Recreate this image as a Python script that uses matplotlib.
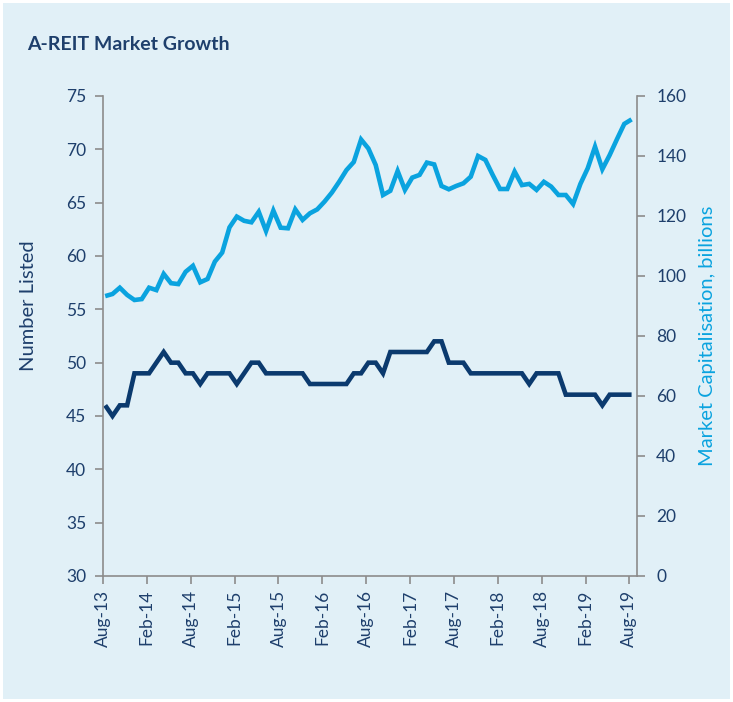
import matplotlib
matplotlib.use("Agg")
import matplotlib.pyplot as plt
from matplotlib.patches import Rectangle
import numpy as np

# ---- data ----
tick_labels = ["Aug-13", "Feb-14", "Aug-14", "Feb-15", "Aug-15", "Feb-16", "Aug-16",
               "Feb-17", "Aug-17", "Feb-18", "Aug-18", "Feb-19", "Aug-19"]

number_listed = [46, 45, 46, 46, 49, 49, 49, 50, 51, 50, 50, 49, 49, 48, 49, 49, 49, 49,
                 48, 49, 50, 50, 49, 49, 49, 49, 49, 49, 48, 48, 48, 48, 48, 48, 49, 49,
                 50, 50, 49, 51, 51, 51, 51, 51, 51, 52, 52, 50, 50, 50, 49, 49, 49, 49,
                 49, 49, 49, 49, 48, 49, 49, 49, 49, 47, 47, 47, 47, 47, 46, 47, 47, 47, 47]

market_cap = [93.3, 94.0, 96.1, 93.7, 92.0, 92.3, 96.1, 95.3, 100.7, 97.6, 97.3, 101.4,
              103.4, 97.9, 99.0, 104.8, 107.8, 116.2, 119.8, 118.4, 117.9, 121.4, 115.0,
              121.8, 116.1, 115.9, 122.2, 118.7, 120.9, 122.2, 124.8, 127.8, 131.4, 135.3,
              138.0, 145.5, 142.5, 137.0, 127.0, 128.4, 135.0, 128.7, 132.8, 133.7, 137.8,
              137.2, 130.0, 128.9, 130.0, 130.9, 133.1, 140.0, 138.7, 133.7, 129.0, 129.0,
              134.8, 130.3, 130.7, 128.7, 131.4, 129.8, 127.0, 127.0, 124.0, 130.7, 135.9,
              143.1, 135.6, 140.3, 145.6, 150.7, 152.2]

DARK = "#0B3A6E"
LIGHT = "#0AA3DF"
BG = "#E1F0F7"
TXT = "#1E3F6C"
SPINE = "#8C8C8C"

plt.rcParams['font.family'] = ['Lato', 'DejaVu Sans']

fig = plt.figure(figsize=(7.33, 7.02), dpi=100)
fig.patch.set_facecolor("white")
fig.add_artist(Rectangle((3 / 733, 3 / 702), 727 / 733, 696 / 702, transform=fig.transFigure,
                         facecolor=BG, edgecolor="none", zorder=-10))

ax = fig.add_axes([103 / 733, 1 - 576 / 702, (636.7 - 103) / 733, (576 - 96) / 702])
ax.set_facecolor("none")
ax2 = ax.twinx()

x = np.arange(len(number_listed)) + 0.3
ax.plot(x, number_listed, color=DARK, lw=3.3, solid_joinstyle="miter", solid_capstyle="butt")
ax2.plot(x, market_cap, color=LIGHT, lw=3.3, solid_joinstyle="miter", solid_capstyle="butt")

ax.set_xlim(0, 73)
ax.set_ylim(30, 75)
ax2.set_ylim(0, 160)
ax.set_yticks(np.arange(30, 76, 5))
ax2.set_yticks(np.arange(0, 161, 20))
ax.set_xticks(np.arange(0, 73, 6))
ax.set_xticklabels(tick_labels, rotation=90)

for a in (ax, ax2):
    for s in a.spines.values():
        s.set_visible(False)
    a.tick_params(colors=SPINE, labelcolor=TXT, labelsize=12.5, length=6, width=1.2, direction="out")
ax.spines["left"].set_visible(True)
ax.spines["bottom"].set_visible(True)
ax2.spines["right"].set_visible(True)
for s in (ax.spines["left"], ax.spines["bottom"], ax2.spines["right"]):
    s.set_color(SPINE)
    s.set_linewidth(1.2)
ax.tick_params(axis="x", pad=4)
ax.tick_params(axis="y", pad=6)
ax2.tick_params(axis="y", pad=8)

ax.set_ylabel("Number Listed", color=TXT, fontsize=14.5)
ax.yaxis.set_label_coords(-0.123, 0.5625)
ax2.set_ylabel("Market Capitalisation, billions", color=LIGHT, fontsize=14.5, labelpad=9)

fig.text(27 / 733, 1 - 44 / 702, "A-REIT Market Growth", fontsize=14, fontweight="bold",
         color=TXT, ha="left", va="center")

fig.savefig("out.png", dpi=100, facecolor=fig.get_facecolor())
